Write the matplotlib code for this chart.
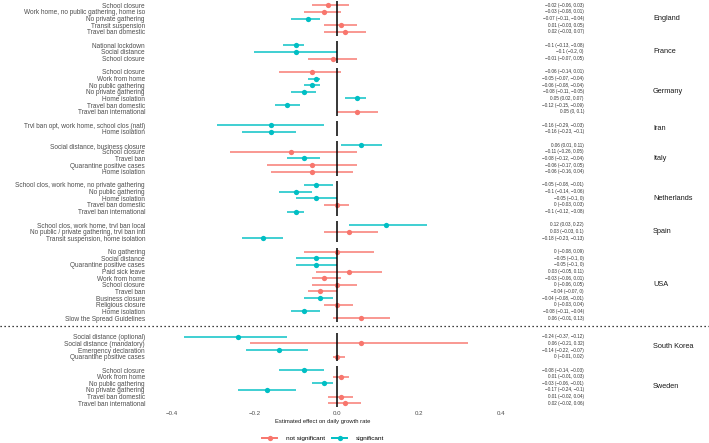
import matplotlib
matplotlib.use('Agg')
import matplotlib.pyplot as plt
from matplotlib.lines import Line2D
import matplotlib.transforms as mtransforms

plt.rcParams['font.family'] = ['Liberation Sans', 'DejaVu Sans']

# ---------------- data ----------------
upper_countries = ["England", "France", "Germany", "Iran", "Italy", "Netherlands", "Spain", "USA"]
lower_countries = ["South Korea", "Sweden"]

country = (["England"] * 5 + ["France"] * 3 + ["Germany"] * 7 + ["Iran"] * 2 + ["Italy"] * 5
           + ["Netherlands"] * 5 + ["Spain"] * 3 + ["USA"] * 11 + ["South Korea"] * 4 + ["Sweden"] * 6)

measure = [
    "School closure", "Work home, no public gathering, home iso", "No private gathering",
    "Transit suspension", "Travel ban domestic",
    "National lockdown", "Social distance", "School closure",
    "School closure", "Work from home", "No public gathering", "No private gathering",
    "Home isolation", "Travel ban domestic", "Travel ban international",
    "Trvl ban opt, work home, school clos (natl)", "Home isolation",
    "Social distance, business closure", "School closure", "Travel ban",
    "Quarantine positive cases", "Home isolation",
    "School clos, work home, no private gathering", "No public gathering", "Home isolation",
    "Travel ban domestic", "Travel ban international",
    "School clos, work home, trvl ban local", "No public / private gathering, trvl ban intl",
    "Transit suspension, home isolation",
    "No gathering", "Social distance", "Quarantine positive cases", "Paid sick leave",
    "Work from home", "School closure", "Travel ban", "Business closure", "Religious closure",
    "Home isolation", "Slow the Spread Guidelines",
    "Social distance (optional)", "Social distance (mandatory)", "Emergency declaration",
    "Quarantine positive cases",
    "School closure", "Work from home", "No public gathering", "No private gathering",
    "Travel ban domestic", "Travel ban international",
]

estimate = [
    -0.02, -0.03, -0.07, 0.01, 0.02,
    -0.10, -0.10, -0.01,
    -0.06, -0.05, -0.06, -0.08, 0.05, -0.12, 0.05,
    -0.16, -0.16,
    0.06, -0.11, -0.08, -0.06, -0.06,
    -0.05, -0.10, -0.05, 0.00, -0.10,
    0.12, 0.03, -0.18,
    0.00, -0.05, -0.05, 0.03, -0.03, 0.00, -0.04, -0.04, 0.00, -0.08, 0.06,
    -0.24, 0.06, -0.14, 0.00,
    -0.08, 0.01, -0.03, -0.17, 0.01, 0.02,
]

ci_low = [
    -0.06, -0.08, -0.11, -0.03, -0.03,
    -0.13, -0.20, -0.07,
    -0.14, -0.07, -0.08, -0.11, 0.02, -0.15, 0.00,
    -0.29, -0.23,
    0.01, -0.26, -0.12, -0.17, -0.16,
    -0.08, -0.14, -0.10, -0.03, -0.12,
    0.03, -0.03, -0.23,
    -0.08, -0.10, -0.10, -0.05, -0.06, -0.06, -0.07, -0.08, -0.03, -0.11, -0.01,
    -0.37, -0.21, -0.22, -0.01,
    -0.14, -0.01, -0.06, -0.24, -0.02, -0.02,
]

ci_high = [
    0.03, 0.01, -0.04, 0.05, 0.07,
    -0.08, 0.00, 0.05,
    0.01, -0.04, -0.04, -0.05, 0.07, -0.09, 0.10,
    -0.03, -0.10,
    0.11, 0.05, -0.04, 0.05, 0.04,
    -0.01, -0.06, 0.00, 0.03, -0.08,
    0.22, 0.10, -0.13,
    0.09, 0.00, 0.00, 0.11, 0.01, 0.05, 0.00, -0.01, 0.04, -0.04, 0.13,
    -0.12, 0.32, -0.07, 0.02,
    -0.03, 0.03, -0.01, -0.10, 0.04, 0.06,
]

significant = [
    False, False, True, False, False,
    True, True, False,
    False, True, True, True, True, True, False,
    True, True,
    True, False, True, False, False,
    True, True, True, False, True,
    True, False, True,
    False, True, True, False, False, False, False, True, False, True, False,
    True, False, True, False,
    True, False, True, True, False, False,
]

x_ticks = [-0.4, -0.2, 0.0, 0.2, 0.4]
x_tick_labels = ["\u22120.4", "\u22120.2", "0.0", "0.2", "0.4"]

# ---------------- layout ----------------
W, H = 709, 443
fig = plt.figure(figsize=(W / 100, H / 100), dpi=100)

ax_left_px, ax_top_px, ax_bot_px = 150, 1.3, 407.3
zero_px, px_per_unit = 336.7, 411.5
ax = fig.add_axes([ax_left_px / W, (H - ax_bot_px) / H, (W - ax_left_px) / W, (ax_bot_px - ax_top_px) / H])
ax.set_xlim((ax_left_px - zero_px) / px_per_unit, (W - zero_px) / px_per_unit)

RED = "#F8766D"
TEAL = "#00BFC4"
EXP = 0.6
GAP = 2.0
SECTION_GAP = 2.8

# compute row positions
ypos = []
groups = {}
y = 0.0
prev_c = None
for c in country:
    if prev_c is not None and c != prev_c:
        if c == lower_countries[0]:
            y += SECTION_GAP
        else:
            y += GAP
    elif prev_c is not None:
        y += 1
    ypos.append(y)
    groups.setdefault(c, []).append(y)
    prev_c = c

ax.set_ylim(ypos[-1] + EXP, -EXP)

for yy, e, lo, hi, s in zip(ypos, estimate, ci_low, ci_high, significant):
    col = TEAL if s else RED
    ax.plot([lo, hi], [yy, yy], color=col, lw=1.4, alpha=0.75, solid_capstyle='butt', zorder=2)
    ax.plot([e], [yy], 'o', color=col, ms=3.8, mec='none', zorder=3)

for c, ys in groups.items():
    ax.plot([0, 0], [min(ys) - EXP, max(ys) + EXP], color='black', lw=1.1, zorder=4,
            solid_capstyle='butt')

fig_y = mtransforms.blended_transform_factory(fig.transFigure, ax.transData)

def fmt(v):
    s = f"{round(v, 2):g}"
    if s == "-0":
        s = "0"
    return s.replace("-", "\u2212")

for yy, e, lo, hi in zip(ypos, estimate, ci_low, ci_high):
    ax.text(584 / W, yy, f"{fmt(e)} ({fmt(lo)}, {fmt(hi)})", transform=fig_y,
            ha='right', va='center', fontsize=3.3, color='#333333')

for c, ys in groups.items():
    ax.text(653 / W, (min(ys) + max(ys)) / 2, c, transform=fig_y, ha='left', va='center',
            fontsize=5.3, color='#1A1A1A')

# dotted separator
sep_y = groups[upper_countries[-1]][-1] + 1.15
ax.plot([0, 1], [sep_y, sep_y], transform=fig_y, color='black', lw=0.9,
        linestyle=(0, (1, 2.2)), clip_on=False)

ax.set_yticks(ypos)
ax.set_yticklabels(measure, fontsize=4.7, color='#4D4D4D')
ax.tick_params(axis='y', length=0, pad=3.6)
ax.set_xticks(x_ticks)
ax.set_xticklabels(x_tick_labels, fontsize=4.4, color='#4D4D4D')
ax.tick_params(axis='x', length=0, pad=2.5)
for sp in ax.spines.values():
    sp.set_visible(False)
ax.set_facecolor('none')

fig.text(323 / W, 1 - 421.7 / H, "Estimated effect on daily growth rate", ha='center', va='center',
         fontsize=4.2, color='#1A1A1A')

handles = [Line2D([], [], color=RED, lw=1.4, marker='o', ms=3.8, mec='none'),
           Line2D([], [], color=TEAL, lw=1.4, marker='o', ms=3.8, mec='none')]
fig.legend(handles, ["not significant", "significant"], loc='center',
           bbox_to_anchor=(323 / W, 1 - 438.7 / H), ncol=2, frameon=False, fontsize=4.6,
           handlelength=2.4, handletextpad=1.3, columnspacing=1.1)

fig.savefig("out.png", dpi=100)
